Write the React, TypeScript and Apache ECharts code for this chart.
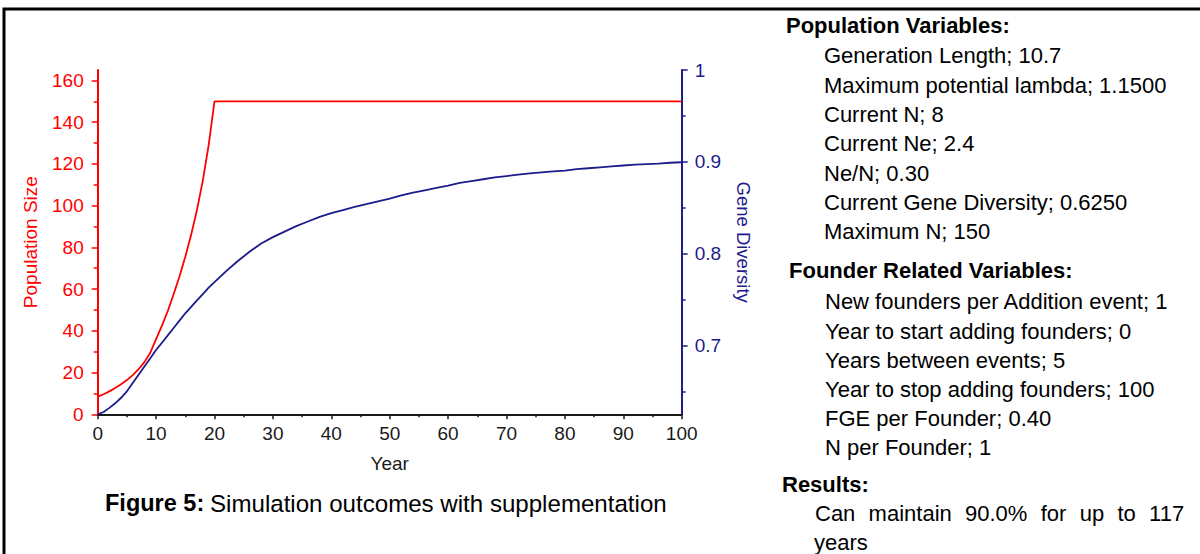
import React, { useEffect, useRef } from "react";
import * as echarts from "echarts";

// ---- Data ----
const popYears = [0, 1, 2, 3, 4, 5, 6, 7, 8, 9, 10, 11, 12, 13, 14, 15, 16, 17, 18, 19, 20, 100];
const popValues = [8.5, 9.6, 11, 12.6, 14.4, 16.4, 18.8, 21.6, 25, 29.5, 36, 42.5, 49.5, 57.5, 66, 75.5, 86, 98, 112, 129, 150, 150];

const divYears = [0, 1, 2, 3, 4, 5, 6, 7, 8, 9, 10, 11, 12, 13, 14, 15, 16, 17, 18, 19, 20, 22, 24, 26, 28, 30, 32, 34, 36, 38, 40, 42, 44, 46, 48, 50, 52, 54, 56, 58, 60, 62, 64, 66, 68, 70, 72, 74, 76, 78, 80, 82, 84, 86, 88, 90, 92, 94, 96, 98, 100];
const divValues = [0.625, 0.6275, 0.632, 0.637, 0.643, 0.65, 0.659, 0.668, 0.677, 0.686, 0.695, 0.703, 0.711, 0.719, 0.727, 0.735, 0.742, 0.749, 0.756, 0.763, 0.769, 0.781, 0.792, 0.802, 0.811, 0.818, 0.824, 0.83, 0.835, 0.84, 0.844, 0.8475, 0.851, 0.854, 0.857, 0.86, 0.8635, 0.8665, 0.869, 0.8715, 0.874, 0.877, 0.879, 0.881, 0.883, 0.8845, 0.886, 0.8875, 0.8885, 0.8895, 0.8905, 0.892, 0.893, 0.894, 0.895, 0.896, 0.897, 0.8975, 0.898, 0.899, 0.8995];

const popTicks = [0, 20, 40, 60, 80, 100, 120, 140, 160];
const popMinorTicks = [10, 30, 50, 70, 90, 110, 130, 150];
const divTicks = [0.7, 0.8, 0.9, 1];
const divMinorTicks = [0.65, 0.75, 0.85, 0.95];

const popVarHeader = "Population Variables:";
const popVarLines = [
  "Generation Length; 10.7",
  "Maximum potential lambda; 1.1500",
  "Current N; 8",
  "Current Ne; 2.4",
  "Ne/N; 0.30",
  "Current Gene Diversity; 0.6250",
  "Maximum N; 150",
];
const founderHeader = "Founder Related Variables:";
const founderLines = [
  "New founders per Addition event; 1",
  "Year to start adding founders; 0",
  "Years between events; 5",
  "Year to stop adding founders; 100",
  "FGE per Founder; 0.40",
  "N per Founder; 1",
];
const resultsHeader = "Results:";
const resultWords = ["Can", "maintain", "90.0%", "for", "up", "to", "117"];
const resultLast = "years";

const RED = "#ff0000";
const NAVY = "#1c1c8c";
const FONT = '"Liberation Sans", Arial, sans-serif';

export default function App() {
  const ref = useRef<HTMLDivElement>(null);

  useEffect(() => {
    if (!ref.current) return;
    const chart = echarts.init(ref.current, null, { renderer: "svg" });

    const txt = (text: string, x: number, y: number, opts: any = {}) => ({
      type: "text",
      x,
      y,
      style: {
        text,
        fill: "#000",
        fontSize: 22,
        fontFamily: FONT,
        verticalAlign: "middle",
        align: "left",
        ...opts,
      },
    });

    const graphics: any[] = [
      {
        type: "rect",
        shape: { x: 4, y: 9, width: 1300, height: 700 },
        style: { fill: "none", stroke: "#000", lineWidth: 3 },
      },
    ];

    // Right panel
    graphics.push(txt(popVarHeader, 786, 25, { fontWeight: "bold" }));
    const popYs = [55, 85, 114, 143, 173, 202, 231];
    popVarLines.forEach((l, i) => graphics.push(txt(l, 824, popYs[i])));
    graphics.push(txt(founderHeader, 789, 270, { fontWeight: "bold" }));
    const fYs = [301, 331, 360, 389, 418, 447];
    founderLines.forEach((l, i) => graphics.push(txt(l, 825, fYs[i])));
    graphics.push(txt(resultsHeader, 782, 484, { fontWeight: "bold" }));
    // justified line: words spread evenly between 815 and 1186
    const wordXs = [815, 868.6, 965, 1040.7, 1079.7, 1117.5, 1149.1];
    resultWords.forEach((w, i) => graphics.push(txt(w, wordXs[i], 513)));
    graphics.push(txt(resultLast, 814, 542));

    // Caption
    graphics.push(txt("Figure 5:", 105, 503, { fontWeight: "bold", fontSize: 23.5 }));
    graphics.push(txt("Simulation outcomes with supplementation", 210, 503, { fontSize: 24.1 }));

    const minorAxisBase = {
      type: "value",
      axisLine: { show: false },
      axisLabel: { show: false },
      splitLine: { show: false },
    };

    chart.setOption({
      animation: false,
      backgroundColor: "#fff",
      grid: { left: 97.7, top: 70, width: 584, height: 344.3 },
      xAxis: {
        type: "value",
        min: 0,
        max: 100,
        interval: 10,
        name: "Year",
        nameLocation: "middle",
        nameGap: 40,
        nameTextStyle: { fontSize: 19, color: "#1a1a1a", fontFamily: FONT },
        axisLine: { lineStyle: { color: "#1a1a1a", width: 2 } },
        axisTick: { length: 5, lineStyle: { color: "#1a1a1a", width: 1.5 } },
        minorTick: { show: true, splitNumber: 2, length: 3, lineStyle: { color: "#1a1a1a", width: 1.5 } },
        axisLabel: { fontSize: 19, color: "#1a1a1a", fontFamily: FONT, margin: 10 },
        splitLine: { show: false },
      },
      yAxis: [
        {
          type: "value",
          position: "left",
          min: 0,
          max: 165,
          name: "Population Size",
          nameLocation: "middle",
          nameRotate: 90,
          nameGap: 58,
          nameTextStyle: { fontSize: 19, color: RED, fontFamily: FONT },
          axisLine: { show: true, lineStyle: { color: RED, width: 2 } },
          axisTick: { show: true, customValues: popTicks, length: 6, lineStyle: { color: RED, width: 1.5 } },
          axisLabel: { customValues: popTicks, fontSize: 19, color: RED, fontFamily: FONT, margin: 14 },
          splitLine: { show: false },
        },
        {
          type: "value",
          position: "right",
          min: 0.625,
          max: 1,
          name: "Gene Diversity",
          nameLocation: "middle",
          nameRotate: -90,
          nameGap: 52,
          nameTextStyle: { fontSize: 18.5, color: NAVY, fontFamily: FONT },
          axisLine: { show: true, lineStyle: { color: NAVY, width: 2 } },
          axisTick: { show: true, customValues: divTicks, length: 6, lineStyle: { color: NAVY, width: 1.5 } },
          axisLabel: {
            customValues: divTicks,
            fontSize: 19,
            color: NAVY,
            fontFamily: FONT,
            margin: 13,
            formatter: (v: number) => String(Math.round(v * 10) / 10),
          },
          splitLine: { show: false },
        },
        {
          ...minorAxisBase,
          position: "left",
          min: 0,
          max: 165,
          axisTick: { show: true, customValues: popMinorTicks, length: 4, lineStyle: { color: RED, width: 1.5 } },
        },
        {
          ...minorAxisBase,
          position: "right",
          min: 0.625,
          max: 1,
          axisTick: { show: true, customValues: divMinorTicks, length: 4, lineStyle: { color: NAVY, width: 1.5 } },
        },
      ],
      series: [
        {
          type: "line",
          yAxisIndex: 0,
          data: popYears.map((y, i) => [y, popValues[i]]),
          showSymbol: false,
          smooth: false,
          lineStyle: { color: RED, width: 1.8 },
          itemStyle: { color: RED },
        },
        {
          type: "line",
          yAxisIndex: 1,
          data: divYears.map((y, i) => [y, divValues[i]]),
          showSymbol: false,
          smooth: false,
          lineStyle: { color: NAVY, width: 1.8 },
          itemStyle: { color: NAVY },
        },
      ],
      graphic: graphics,
    });

    return () => chart.dispose();
  }, []);

  return (
    <div
      ref={ref}
      style={{ position: "fixed", left: 0, top: 0, width: 1200, height: 554, background: "#fff" }}
    />
  );
}
